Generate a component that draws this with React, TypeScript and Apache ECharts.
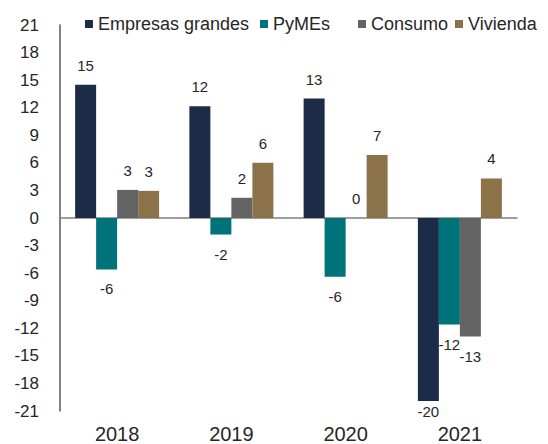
import React, { useEffect, useRef } from "react";
import * as echarts from "echarts";

const categories = ["2018", "2019", "2020", "2021"];
const seriesNames = ["Empresas grandes", "PyMEs", "Consumo", "Vivienda"];
const empresasGrandes = [14.5, 12.15, 13.0, -19.9];
const pymes = [-5.6, -1.8, -6.4, -11.6];
const consumo = [3.06, 2.2, 0, -12.9];
const vivienda = [2.95, 6.0, 6.85, 4.3];
const colors = ["#1C2B48", "#00737A", "#646464", "#8B7249"];
const yMin = -21;
const yMax = 21;
const yInterval = 3;
const legendLeft = [80, 255, 353, 450];

const FONT = "'Liberation Sans', Arial, sans-serif";

export default function App() {
  const ref = useRef<HTMLDivElement>(null);
  useEffect(() => {
    if (!ref.current) return;
    const chart = echarts.init(ref.current, undefined, { renderer: "svg" });
    const dataSets = [empresasGrandes, pymes, consumo, vivienda];
    chart.setOption({
      animation: false,
      textStyle: { fontFamily: FONT },
      legend: seriesNames.map((n, i) => ({
        data: [n],
        left: legendLeft[i],
        top: 10,
        itemWidth: 8,
        itemHeight: 8,
        itemGap: 5,
        icon: "rect",
        textStyle: { fontSize: 18, color: "#262626", fontFamily: FONT },
      })),
      grid: { left: 60, right: 31, top: 25, bottom: 31, containLabel: false },
      xAxis: [
        {
          type: "category",
          data: categories,
          position: "bottom",
          axisLine: { show: false, onZero: false },
          axisTick: { show: false },
          axisLabel: { fontSize: 20, color: "#262626", margin: 13, fontFamily: FONT },
        },
        {
          type: "category",
          data: categories,
          axisLine: { show: true, onZero: true, lineStyle: { color: "#7F7F7F", width: 1.5 } },
          axisTick: { show: false },
          axisLabel: { show: false },
        },
      ],
      yAxis: {
        type: "value",
        min: yMin,
        max: yMax,
        interval: yInterval,
        axisLine: { show: true, lineStyle: { color: "#595959", width: 1.5 } },
        axisTick: { show: false },
        splitLine: { show: false },
        axisLabel: { fontSize: 17, color: "#262626", margin: 21, fontFamily: FONT },
      },
      series: seriesNames.map((n, i) => ({
        name: n,
        type: "bar",
        xAxisIndex: 0,
        barWidth: 21,
        barGap: "0%",
        itemStyle: { color: colors[i] },
        data: dataSets[i].map((v) => ({
          value: v,
          label: {
            show: true,
            position: v >= 0 ? "top" : "bottom",
            distance: v < -18 ? 3 : 12,
            fontSize: 15,
            color: "#262626",
            fontFamily: FONT,
            formatter: (p: any) => String(Math.round(p.value)),
          },
        })),
      })),
    });
    return () => chart.dispose();
  }, []);
  return (
    <div
      ref={ref}
      style={{ position: "absolute", left: 0, top: 0, width: 548, height: 444 }}
    />
  );
}
